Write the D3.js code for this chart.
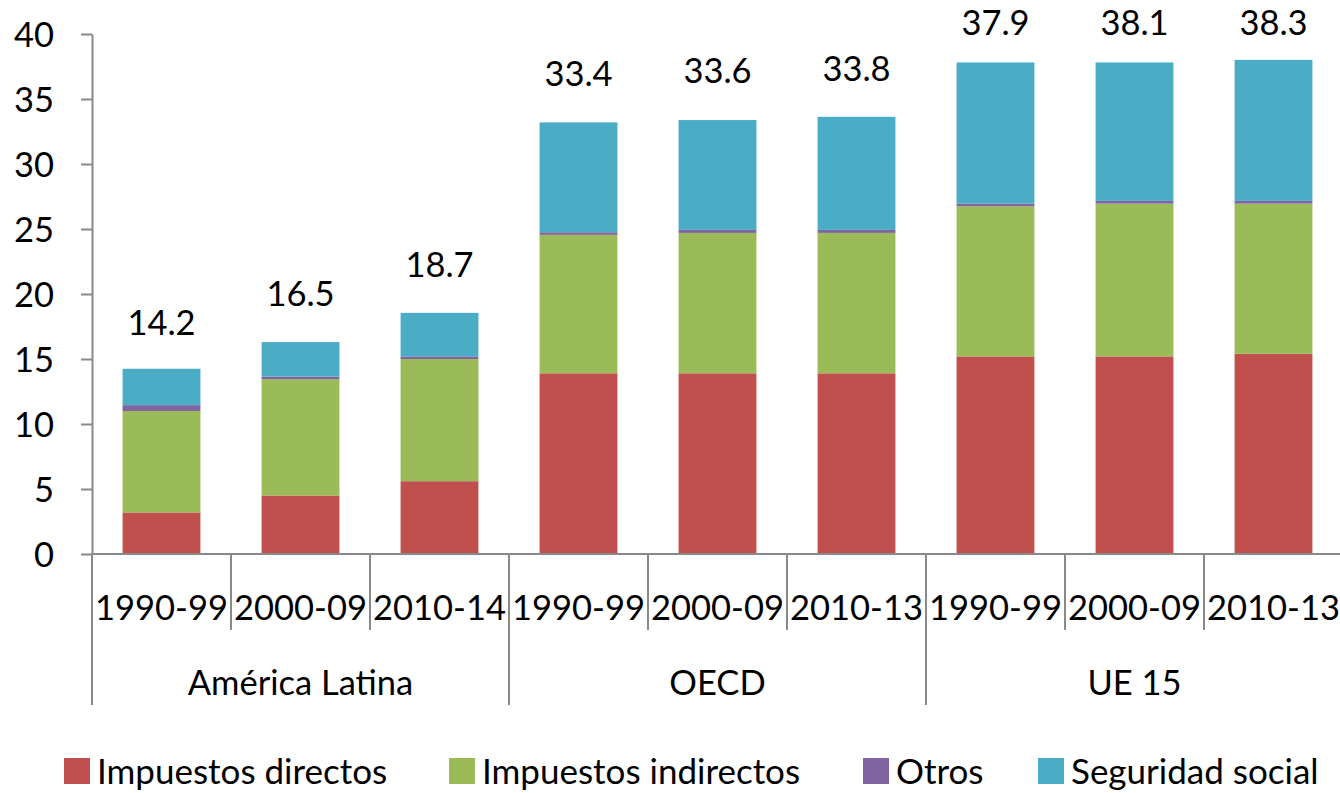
<!DOCTYPE html>
<html>
<head>
<meta charset="utf-8">
<script src="https://cdn.jsdelivr.net/npm/d3@7"></script>
<style>
  body { margin: 0; background: #fff; }
  text { font-family: Lato, "Open Sans", sans-serif; fill: #000; }
</style>
</head>
<body>
<div id="chart"></div>
<script>
// datos (% del PIB)
const periods = ["1990-99", "2000-09", "2010-14", "1990-99", "2000-09", "2010-13", "1990-99", "2000-09", "2010-13"];
const groups = ["América Latina", "OECD", "UE 15"];
const directos = [3.2, 4.5, 5.6, 13.9, 13.9, 13.9, 15.2, 15.2, 15.4];
const indirectos = [7.8, 8.95, 9.4, 10.65, 10.8, 10.8, 11.55, 11.75, 11.55];
const otros = [0.45, 0.2, 0.2, 0.2, 0.23, 0.23, 0.21, 0.21, 0.21];
const seguridad = [2.8, 2.65, 3.35, 8.45, 8.45, 8.7, 10.85, 10.65, 10.85];
const totales = [14.2, 16.5, 18.7, 33.4, 33.6, 33.8, 37.9, 38.1, 38.3];
const yTicks = [0, 5, 10, 15, 20, 25, 30, 35, 40];

const seriesNames = ["Impuestos directos", "Impuestos indirectos", "Otros", "Seguridad social"];
const colors = ["#C0504D", "#9BBB59", "#8064A2", "#4BACC6"];

const width = 1340, height = 793;
const margin = { top: 34, left: 92, right: -3, bottom: 239 };
const axisColor = "#898989";
const fontSize = "34.5px";

const svg = d3.select("#chart").append("svg")
    .attr("width", width)
    .attr("height", height);

const y = d3.scaleLinear()
    .domain([0, 40])
    .range([height - margin.bottom, margin.top]);

const x = d3.scaleBand()
    .domain(d3.range(periods.length))
    .range([margin.left, width - margin.right])
    .paddingInner(0.44)
    .paddingOuter(0.22);

const step = x.step();
const x0 = margin.left;

// tabla para d3.stack
const table = periods.map((p, i) => ({
    i: i,
    "Impuestos directos": directos[i],
    "Impuestos indirectos": indirectos[i],
    "Otros": otros[i],
    "Seguridad social": seguridad[i]
}));
const stacked = d3.stack().keys(seriesNames)(table);

svg.append("g").selectAll("g")
    .data(stacked)
    .enter().append("g")
    .attr("fill", (d, k) => colors[k])
    .selectAll("rect")
    .data(d => d)
    .enter().append("rect")
    .attr("x", d => x(d.data.i))
    .attr("y", d => y(d[1]))
    .attr("width", x.bandwidth())
    .attr("height", d => y(d[0]) - y(d[1]));

// eje Y
const yAxis = svg.append("g")
    .attr("transform", `translate(${margin.left},0)`)
    .call(d3.axisLeft(y).tickValues(yTicks).tickSize(11).tickPadding(27).tickSizeOuter(0));
yAxis.select(".domain").attr("stroke", axisColor).attr("stroke-width", 2);
yAxis.selectAll(".tick line").attr("stroke", axisColor).attr("stroke-width", 2);
yAxis.selectAll(".tick text").style("font-size", fontSize).attr("dy", "0.36em");

// eje X: línea base
const y0 = y(0);
svg.append("line")
    .attr("x1", margin.left).attr("x2", width)
    .attr("y1", y0).attr("y2", y0)
    .attr("stroke", axisColor).attr("stroke-width", 2);

// separadores de periodo y de grupo
const boundaries = d3.range(0, periods.length + 1);
svg.append("g").selectAll("line")
    .data(boundaries)
    .enter().append("line")
    .attr("x1", i => x0 + i * step)
    .attr("x2", i => x0 + i * step)
    .attr("y1", y0)
    .attr("y2", i => i % 3 === 0 ? 705 : 630)
    .attr("stroke", axisColor)
    .attr("stroke-width", 2);

// etiquetas de periodo
svg.append("g").selectAll("text")
    .data(periods)
    .enter().append("text")
    .attr("x", (d, i) => x(i) + x.bandwidth() / 2)
    .attr("y", 620)
    .attr("text-anchor", "middle")
    .style("font-size", fontSize)
    .text(d => d);

// etiquetas de grupo
svg.append("g").selectAll("text")
    .data(groups)
    .enter().append("text")
    .attr("x", (d, g) => x0 + (g * 3 + 1.5) * step)
    .attr("y", 695)
    .attr("text-anchor", "middle")
    .style("font-size", fontSize)
    .text(d => d);

// totales encima de las barras
svg.append("g").selectAll("text")
    .data(totales)
    .enter().append("text")
    .attr("x", (d, i) => x(i) + x.bandwidth() / 2)
    .attr("y", d => Math.max(y(d) - 34, 35))
    .attr("text-anchor", "middle")
    .style("font-size", fontSize)
    .text(d => d.toFixed(1));

// leyenda
const legendX = [64, 449, 863, 1038];
const legend = svg.append("g").selectAll("g")
    .data(seriesNames)
    .enter().append("g")
    .attr("transform", (d, k) => `translate(${legendX[k]},758)`);
legend.append("rect")
    .attr("width", 26).attr("height", 26)
    .attr("fill", (d, k) => colors[k]);
legend.append("text")
    .attr("x", 33)
    .attr("y", 26)
    .style("font-size", "35px")
    .text(d => d);
</script>
</body>
</html>
